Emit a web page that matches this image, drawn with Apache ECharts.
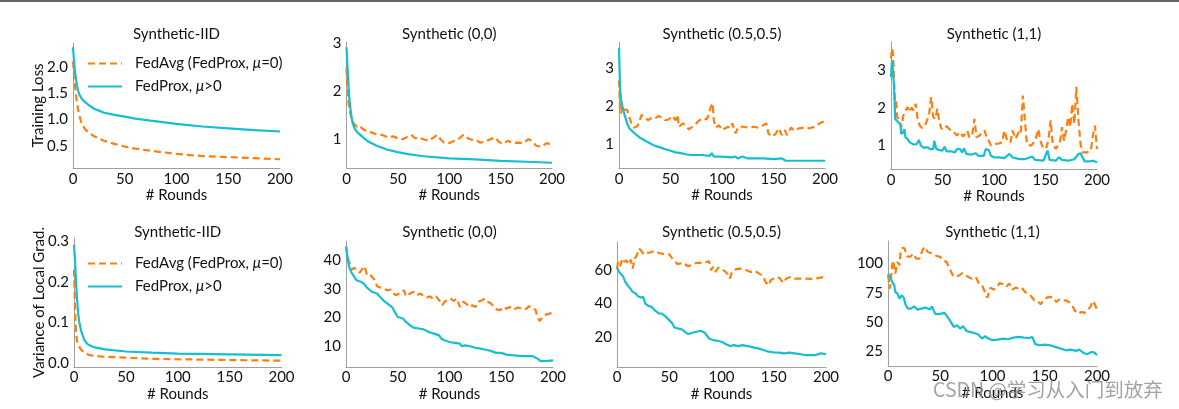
<!DOCTYPE html>
<html>
<head>
<meta charset="utf-8">
<script src="https://cdn.jsdelivr.net/npm/echarts@6/dist/echarts.min.js"></script>
<style>html,body{margin:0;padding:0;background:#fff;}#chart{width:1179px;height:409px;}</style>
</head>
<body>
<div id="chart"></div>
<script>
// ---------- DATA ([round, value]) ----------
const roundTicks = [0, 50, 100, 150, 200];
const seriesNames = ['FedAvg (FedProx, μ=0)', 'FedProx, μ>0'];
const panelTitles = ['Synthetic-IID', 'Synthetic (0,0)', 'Synthetic (0.5,0.5)', 'Synthetic (1,1)',
                     'Synthetic-IID', 'Synthetic (0,0)', 'Synthetic (0.5,0.5)', 'Synthetic (1,1)'];

// Training loss
const lossIidFedAvg = [[0,2.1],[1,1.85],[2,1.62],[3,1.45],[4,1.3],[5,1.18],[6,1.08],[8,0.95],[10,0.87],[12,0.81],[15,0.75],[20,0.69],[25,0.64],[30,0.6],[40,0.54],[50,0.49],[60,0.45],[75,0.41],[100,0.35],[125,0.31],[150,0.29],[175,0.27],[200,0.25]];
const lossIidFedProx = [[0,2.37],[1,2.1],[2,1.9],[3,1.75],[4,1.63],[5,1.54],[6,1.48],[8,1.41],[10,1.36],[15,1.28],[20,1.21],[25,1.17],[30,1.13],[40,1.09],[50,1.055],[60,1.02],[75,0.98],[100,0.92],[125,0.87],[150,0.835],[175,0.8],[200,0.775]];

const loss00FedAvg = [[0,2.5],[1,2.0],[2,1.75],[3,1.62],[5,1.4],[7,1.33],[10,1.26],[13,1.28],[15,1.23],[20,1.16],[25,1.14],[30,1.09],[35,1.09],[40,1.04],[45,1.06],[50,1.02],[55,1.0],[60,1.06],[63,1.09],[67,1.02],[70,1.04],[75,1.0],[80,0.97],[85,1.04],[88,1.09],[92,0.99],[95,0.93],[100,0.92],[105,0.97],[110,1.02],[114,1.1],[118,1.02],[122,0.99],[127,0.97],[130,0.93],[135,0.95],[140,1.0],[145,1.04],[148,0.95],[152,0.9],[157,0.97],[162,0.92],[167,0.93],[172,0.92],[177,1.0],[180,0.97],[185,0.86],[190,0.85],[195,0.92],[200,0.88]];
const loss00FedProx = [[0,2.92],[1,2.5],[2,2.1],[3,1.8],[4,1.61],[5,1.45],[6,1.33],[8,1.22],[10,1.16],[15,1.06],[20,0.97],[25,0.91],[30,0.86],[40,0.78],[50,0.73],[60,0.69],[75,0.645],[100,0.6],[125,0.58],[150,0.55],[175,0.53],[200,0.51]];

const loss05FedAvg = [[0,2.68],[1,1.9],[2,1.81],[3,2.0],[5,1.91],[8,1.9],[10,1.72],[12,1.55],[15,1.44],[18,1.48],[22,1.77],[25,1.72],[28,1.63],[32,1.7],[35,1.68],[38,1.74],[42,1.7],[45,1.63],[48,1.65],[52,1.74],[55,1.63],[57,1.77],[58,1.46],[62,1.55],[65,1.48],[68,1.39],[72,1.48],[75,1.55],[78,1.63],[82,1.68],[85,1.65],[87,1.77],[89,1.97],[91,2.07],[92,1.63],[94,1.44],[97,1.5],[100,1.37],[103,1.42],[106,1.46],[108,1.42],[110,1.55],[113,1.29],[116,1.46],[120,1.46],[125,1.44],[130,1.46],[135,1.44],[140,1.5],[143,1.55],[145,1.29],[148,1.2],[152,1.27],[155,1.42],[158,1.24],[161,1.37],[163,1.24],[167,1.44],[170,1.36],[175,1.42],[180,1.44],[185,1.42],[190,1.46],[195,1.55],[198,1.59],[200,1.53]];
const loss05FedProx = [[0,3.53],[1,2.5],[2,2.16],[4,1.91],[6,1.72],[8,1.55],[10,1.42],[15,1.29],[20,1.18],[25,1.1],[30,1.03],[35,0.96],[40,0.92],[45,0.87],[50,0.83],[55,0.79],[60,0.77],[65,0.74],[70,0.72],[80,0.72],[88,0.7],[90,0.77],[92,0.68],[100,0.68],[110,0.66],[113,0.68],[115,0.63],[120,0.68],[125,0.63],[140,0.63],[150,0.61],[158,0.63],[162,0.57],[180,0.57],[200,0.57]];

const loss11FedAvg = [[0,3.31],[1,3.58],[2,3.44],[3,2.73],[4,2.02],[5,2.2],[6,1.76],[8,1.67],[10,1.49],[12,1.8],[14,1.93],[16,2.02],[18,1.89],[20,2.01],[22,1.93],[24,2.11],[26,1.67],[28,1.53],[30,1.47],[33,1.53],[35,1.67],[37,1.84],[39,2.29],[41,1.76],[43,1.71],[45,1.98],[47,1.62],[49,1.44],[52,1.53],[55,1.49],[58,1.4],[61,1.36],[64,1.27],[67,1.36],[70,1.24],[74,1.4],[76,1.22],[79,1.31],[81,1.71],[83,1.22],[86,1.27],[89,1.36],[91,1.4],[93,1.18],[95,1.13],[97,1.0],[100,1.04],[105,1.06],[108,1.09],[110,1.4],[113,1.12],[116,1.09],[118,1.4],[121,1.18],[124,1.36],[126,1.31],[128,2.33],[130,1.67],[132,1.03],[136,1.0],[140,1.13],[143,1.44],[145,1.13],[148,0.91],[151,0.96],[153,1.18],[155,1.67],[157,1.04],[160,0.91],[164,1.09],[166,1.49],[168,1.13],[170,1.4],[172,1.76],[174,1.49],[176,2.11],[178,1.58],[180,2.56],[182,1.67],[184,1.04],[186,0.82],[190,0.82],[194,0.87],[196,1.27],[198,1.53],[199,1.22],[200,0.91]];
const loss11FedProx = [[0,2.82],[1,3.27],[2,3.22],[3,2.56],[4,1.71],[5,1.67],[7,1.62],[9,1.58],[10,1.31],[11,1.27],[12,1.36],[13,1.44],[14,1.22],[16,1.18],[18,1.09],[20,1.06],[22,1.03],[25,1.04],[27,1.15],[29,1.0],[32,0.94],[35,0.96],[38,0.91],[41,0.91],[42,1.13],[44,0.91],[47,0.88],[50,0.87],[52,0.97],[54,0.85],[58,0.85],[62,0.82],[64,0.91],[67,0.91],[69,0.82],[71,0.93],[73,0.78],[78,0.76],[82,0.8],[85,0.73],[90,0.73],[92,0.91],[95,0.88],[97,0.73],[100,0.69],[105,0.69],[110,0.67],[115,0.78],[118,0.69],[125,0.64],[130,0.64],[137,0.71],[140,0.62],[148,0.6],[152,0.87],[154,0.62],[160,0.6],[163,0.69],[166,0.62],[172,0.6],[178,0.64],[182,0.78],[184,0.8],[186,0.69],[188,0.58],[192,0.58],[196,0.6],[200,0.56]];

// Variance of local gradients
const varIidFedAvg = [[0,0.229],[1,0.131],[2,0.074],[3,0.053],[5,0.041],[7,0.033],[10,0.026],[15,0.02],[20,0.018],[30,0.016],[50,0.014],[75,0.011],[100,0.01],[150,0.008],[200,0.0065]];
const varIidFedProx = [[0,0.29],[1,0.253],[2,0.196],[3,0.155],[4,0.123],[5,0.102],[7,0.078],[10,0.057],[13,0.047],[16,0.043],[20,0.039],[30,0.034],[50,0.029],[75,0.026],[100,0.024],[150,0.022],[200,0.02]];

const var00FedAvg = [[0,44.7],[2,40.6],[4,38.3],[6,36.7],[8,37.4],[10,36.7],[13,35.6],[16,37.1],[18,37.9],[20,35.1],[23,35.3],[25,34.2],[28,33],[30,30.9],[33,30.5],[36,30.1],[40,29.5],[43,29.8],[45,28.6],[48,27.8],[50,28.1],[53,29],[56,29.5],[58,27.4],[62,28.4],[65,29],[68,27.8],[72,28.4],[75,27.4],[78,27],[81,27.4],[84,26.6],[87,27.4],[90,26],[93,24.3],[95,25.5],[98,26],[101,26.6],[104,25.8],[107,26.6],[110,23.7],[113,25.5],[116,24.9],[119,23.7],[122,24.3],[125,23.7],[128,25.5],[131,26],[134,26.6],[137,25.5],[140,24.9],[143,23.7],[146,22.8],[149,22.6],[152,23.7],[155,23.1],[158,23.7],[162,22.8],[166,23.5],[170,23.1],[174,23],[177,24],[180,23.1],[183,22.8],[185,20.2],[187,18.8],[190,20.2],[194,21.2],[197,21.4],[200,22]];
const var00FedProx = [[0,44.9],[1,42.3],[2,40],[3,37.7],[5,35.9],[8,34.2],[10,33],[15,32.4],[18,31.6],[20,30.5],[25,29],[30,28.4],[33,27.2],[36,26],[40,24.9],[45,23.5],[47,22],[50,20.2],[55,19.7],[58,18.5],[62,17.3],[65,16.5],[70,16.2],[75,15.9],[80,15],[85,14.4],[90,13.8],[92,12.7],[95,12.1],[100,11.5],[105,11.2],[110,10.9],[112,10],[115,10.3],[120,10],[125,9.5],[130,9.2],[135,8.8],[140,8.4],[145,7.7],[150,7.7],[155,7.1],[160,6.9],[170,6.6],[180,6.6],[185,5.7],[188,4.8],[195,4.9],[200,5.1]];

const var05FedAvg = [[0,61],[1,65],[3,62.4],[5,67],[7,65],[9,66],[11,63.6],[13,66.4],[15,61],[17,67],[19,69],[21,73],[23,72],[25,70],[27,71],[30,70.4],[33,71],[36,71.6],[40,70.4],[43,70],[46,69.6],[50,69.6],[53,67],[56,65],[58,63.6],[62,64.4],[65,63.6],[68,62.4],[72,63.6],[76,64.4],[80,64.4],[84,64.4],[88,65.6],[90,60],[92,62],[94,59],[97,61.6],[100,60.4],[103,59.6],[106,57.6],[108,55],[110,59],[113,60.4],[117,61],[120,60.8],[124,60],[128,59],[132,59.6],[136,58],[140,56.4],[142,53],[145,51],[147,54],[150,55],[153,56],[156,55],[159,52.4],[162,55],[166,56],[170,55],[175,55],[180,55],[185,54.8],[190,55],[195,55.6],[200,56.4]];
const var05FedProx = [[0,61.6],[2,59],[4,57.6],[6,56],[8,53],[10,51],[12,49.6],[15,47],[18,46],[20,44.4],[23,43.6],[25,44],[27,40],[30,38.6],[33,38],[36,36],[40,34],[43,34],[46,32.4],[50,30],[53,28],[55,25.6],[58,25],[62,24.4],[65,23],[68,21.6],[72,22.4],[76,23],[80,23.6],[84,22.4],[88,19],[92,18],[96,17.6],[100,17],[104,15.6],[108,14.4],[112,15],[116,14.4],[120,15],[125,14.4],[130,13.6],[135,13],[140,12],[145,11],[150,10.6],[155,10.4],[160,10],[165,10.4],[170,10],[175,9.6],[180,9],[185,9],[190,9],[195,10],[200,9.6]];

const var11FedAvg = [[0,90],[2,78.7],[4,98.6],[5,102.8],[7,91.5],[9,101.4],[11,98.6],[12,109.9],[14,113.6],[16,112.8],[18,106.3],[21,105.7],[24,108.5],[27,104.3],[30,104.3],[33,111.4],[35,114.2],[38,109.9],[41,109.1],[44,108],[47,106.3],[50,105.7],[53,102.8],[56,101.4],[59,95.7],[62,90],[65,88.6],[68,90],[71,92],[74,90],[77,88.6],[80,87.2],[84,88.6],[87,83],[90,81.5],[92,77.3],[95,71],[98,79.5],[101,77.8],[104,80.1],[107,83.5],[110,82.4],[113,80.1],[116,83],[119,77.8],[122,79.5],[125,78.7],[128,79.5],[131,75.9],[134,74.4],[137,72.2],[140,68.8],[143,68.2],[146,65.3],[149,68.8],[152,71],[155,71.6],[158,71],[161,67.3],[164,69.3],[167,68.2],[170,68.8],[173,67.3],[176,64.5],[179,59.7],[182,57.4],[185,58.8],[188,58],[191,60.2],[194,63.6],[196,68.2],[198,65.3],[200,60.2]];
const var11FedProx = [[0,91.5],[2,88.6],[4,84.4],[6,81.5],[7,75.9],[9,74.4],[11,70.2],[13,73],[15,71],[17,64.5],[19,61.6],[22,61.6],[25,63.6],[28,60.8],[32,61.6],[36,62.5],[40,60.8],[42,63.6],[45,57.4],[48,56.8],[51,57.4],[54,58],[57,54.5],[60,50.3],[63,46],[66,47.4],[69,44.6],[72,46.6],[75,42.6],[78,41.8],[82,40.9],[86,39.8],[90,36.1],[93,38.1],[96,36.1],[100,34.7],[105,35.2],[110,36.1],[115,35.5],[120,36.9],[125,37.5],[130,36.9],[135,36.6],[138,37.5],[141,31.3],[145,30.4],[150,31],[155,30.4],[160,29],[165,27.6],[170,26.1],[175,26.7],[180,25.6],[183,26.7],[187,23.9],[190,22.7],[195,24.7],[198,23.9],[200,21.9]];

// y tick labels per panel
const yTicks = [
  [0.5, 1.0, 1.5, 2.0], [1, 2, 3], [1, 2, 3], [1, 2, 3],
  [0.0, 0.1, 0.2, 0.3], [10, 20, 30, 40], [20, 40, 60], [25, 50, 75, 100]
];
const yDecimals = [1, 0, 0, 0, 1, 0, 0, 0];
// ---------- END DATA ----------

const fedAvgData = [lossIidFedAvg, loss00FedAvg, loss05FedAvg, loss11FedAvg, varIidFedAvg, var00FedAvg, var05FedAvg, var11FedAvg];
const fedProxData = [lossIidFedProx, loss00FedProx, loss05FedProx, loss11FedProx, varIidFedProx, var00FedProx, var05FedProx, var11FedProx];

// layout
const GRIDS = [
  {left: 73, top: 43, width: 207, height: 125},
  {left: 346.5, top: 42, width: 205.5, height: 126},
  {left: 619, top: 42, width: 206, height: 126},
  {left: 891, top: 42, width: 206, height: 127},
  {left: 74, top: 238, width: 207.5, height: 129},
  {left: 346, top: 241, width: 207, height: 126},
  {left: 617, top: 242, width: 209, height: 125},
  {left: 888, top: 241, width: 209, height: 125}
];
const Y_RANGE = [[0.084, 2.45], [0.4, 3.03], [0.38, 3.68], [0.38, 3.75],
                 [-0.009, 0.307], [2.78, 46.7], [1.8, 77], [12.7, 119.3]];
const Y_NAMES = ['Training Loss', '', '', '', 'Variance of Local Grad.', '', '', ''];

const FONT = 'Lato';
const TXT = '#111';
const ORANGE = '#ff7f0e';
const CYAN = '#17becf';
const AXIS_COLOR = '#a0a0a0';

const chart = echarts.init(document.getElementById('chart'), null, {renderer: 'canvas'});

const series = [];
GRIDS.forEach((g, i) => {
  series.push({
    type: 'line', name: seriesNames[0], xAxisIndex: i, yAxisIndex: i,
    data: fedAvgData[i], showSymbol: false, symbol: 'none', smooth: false,
    lineStyle: {color: ORANGE, width: 2.2, type: [7, 4]}, itemStyle: {color: ORANGE}, z: 2
  });
  series.push({
    type: 'line', name: seriesNames[1], xAxisIndex: i, yAxisIndex: i,
    data: fedProxData[i], showSymbol: false, symbol: 'none', smooth: false,
    lineStyle: {color: CYAN, width: 2.2, type: 'solid'}, itemStyle: {color: CYAN}, z: 3
  });
});

const legendCommon = {
  orient: 'vertical', left: 87, padding: 0, itemGap: 8, itemWidth: 34, itemHeight: 14,
  data: seriesNames, selectedMode: false,
  itemStyle: {opacity: 0},
  lineStyle: {opacity: 1},
  textStyle: {fontFamily: FONT, fontSize: 15, color: TXT, padding: [0, 0, 0, 8],
    rich: {i: {fontFamily: FONT, fontSize: 15, fontStyle: 'italic', color: TXT}}},
  formatter: name => name.replace('μ', '{i|μ}')
};

const graphics = [
  {type: 'line', shape: {x1: 0, y1: 1, x2: 1179, y2: 1}, style: {stroke: '#333', lineWidth: 1.5}, silent: true},
  {type: 'text', x: 933, y: 390, style: {text: 'CSDN @学习从入门到放弃', font: '19.5px "Noto Sans CJK SC"', fill: 'rgba(140,140,140,0.8)', verticalAlign: 'middle', align: 'left'}, z: 100}
];
GRIDS.forEach((g, i) => {
  graphics.push({
    type: 'text', x: g.left + g.width / 2, y: i < 4 ? 34 : 232.5,
    style: {text: panelTitles[i], font: '15px ' + FONT, fill: TXT, align: 'center', verticalAlign: 'middle'}
  });
});

const option = {
  animation: false,
  backgroundColor: '#fff',
  grid: GRIDS.map(g => Object.assign({containLabel: false}, g)),
  xAxis: GRIDS.map((g, i) => ({
    type: 'value', gridIndex: i, min: 0, max: 200, interval: 50,
    name: '# Rounds', nameLocation: 'middle', nameGap: 20, nameMoveOverlap: false,
    nameTextStyle: {fontFamily: FONT, fontSize: 15, color: TXT},
    axisLine: {show: true, onZero: false, lineStyle: {color: AXIS_COLOR, width: 1}},
    axisTick: {show: false}, splitLine: {show: false},
    axisLabel: {margin: i < 4 ? 4 : 3, fontFamily: FONT, fontSize: 15, color: TXT,
      customValues: roundTicks}
  })),
  yAxis: GRIDS.map((g, i) => ({
    type: 'value', gridIndex: i, min: Y_RANGE[i][0], max: Y_RANGE[i][1],
    name: Y_NAMES[i], nameLocation: 'middle', nameGap: 27, nameMoveOverlap: false,
    nameTextStyle: {fontFamily: FONT, fontSize: 15, color: TXT},
    axisLine: {show: true, onZero: false, lineStyle: {color: AXIS_COLOR, width: 1}},
    axisTick: {show: false}, splitLine: {show: false},
    axisLabel: {margin: 5, fontFamily: FONT, fontSize: 15, color: TXT,
      customValues: yTicks[i],
      formatter: v => Number(v).toFixed(yDecimals[i])}
  })),
  legend: [
    Object.assign({}, legendCommon, {top: 56}),
    Object.assign({}, legendCommon, {top: 256})
  ],
  series: series,
  graphic: graphics
};
chart.setOption(option);
</script>
</body>
</html>
